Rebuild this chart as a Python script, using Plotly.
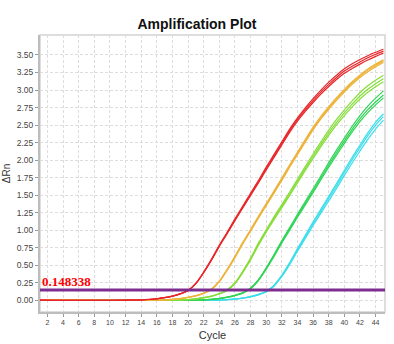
import plotly.graph_objects as go

# Cycle numbers
CYCLES = list(range(1, 46))

# Delta Rn per cycle, three replicates per sample
RED_A = [0.004, 0.002, 0.001, 0.000, -0.001, 0.000, 0.001, 0.000, -0.001, 0.000, 0.001, 0.002, 0.003,
         0.005, 0.012, 0.022, 0.038, 0.060, 0.092, 0.142, 0.245, 0.405, 0.588, 0.788, 0.972, 1.162, 1.345,
         1.528, 1.710, 1.900, 2.082, 2.262, 2.442, 2.602, 2.745, 2.878, 3.000, 3.112, 3.212, 3.302, 3.374,
         3.436, 3.490, 3.538, 3.582]
RED_B = [0.002, 0.001, 0.000, -0.001, 0.000, 0.001, 0.000, -0.001, 0.000, 0.001, 0.001, 0.002, 0.003,
         0.005, 0.012, 0.022, 0.038, 0.060, 0.092, 0.140, 0.240, 0.400, 0.580, 0.780, 0.960, 1.150, 1.330,
         1.510, 1.690, 1.880, 2.060, 2.240, 2.420, 2.580, 2.720, 2.850, 2.970, 3.080, 3.180, 3.270, 3.340,
         3.400, 3.460, 3.510, 3.555]
RED_C = [0.000, -0.001, 0.001, 0.000, 0.001, -0.001, 0.000, 0.001, 0.000, 0.000, 0.002, 0.002, 0.004,
         0.006, 0.013, 0.023, 0.039, 0.061, 0.094, 0.144, 0.238, 0.395, 0.572, 0.770, 0.950, 1.138, 1.318,
         1.495, 1.674, 1.860, 2.040, 2.218, 2.396, 2.555, 2.694, 2.822, 2.942, 3.050, 3.150, 3.238, 3.308,
         3.370, 3.428, 3.480, 3.528]

ORANGE_A = [0.004, 0.003, 0.004, 0.004, 0.003, 0.004, 0.003, 0.002, 0.001, 0.000, 0.000, 0.001, 0.000,
            0.000, 0.001, 0.002, 0.006, 0.014, 0.026, 0.043, 0.068, 0.105, 0.164, 0.278, 0.444, 0.630,
            0.828, 1.010, 1.200, 1.380, 1.562, 1.745, 1.934, 2.114, 2.294, 2.470, 2.626, 2.764, 2.892,
            3.010, 3.118, 3.214, 3.300, 3.370, 3.430]
ORANGE_B = [0.003, 0.002, 0.003, 0.004, 0.003, 0.004, 0.003, 0.002, 0.001, 0.000, 0.000, 0.001, 0.000,
            0.000, 0.001, 0.002, 0.006, 0.014, 0.025, 0.042, 0.066, 0.102, 0.160, 0.272, 0.436, 0.620,
            0.816, 0.998, 1.186, 1.366, 1.546, 1.728, 1.916, 2.096, 2.276, 2.452, 2.608, 2.746, 2.874,
            2.992, 3.100, 3.198, 3.284, 3.352, 3.412]
ORANGE_C = [0.002, 0.002, 0.003, 0.003, 0.004, 0.003, 0.002, 0.002, 0.001, 0.001, 0.000, 0.000, 0.001,
            0.000, 0.001, 0.002, 0.005, 0.013, 0.024, 0.041, 0.064, 0.099, 0.156, 0.266, 0.428, 0.610,
            0.804, 0.986, 1.172, 1.352, 1.530, 1.712, 1.898, 2.078, 2.256, 2.432, 2.588, 2.726, 2.854,
            2.972, 3.080, 3.178, 3.262, 3.330, 3.392]

LIME_A = [0.001, 0.002, 0.002, 0.003, 0.002, 0.001, 0.000, 0.000, -0.001, 0.000, 0.000, 0.001, 0.000,
          0.001, 0.002, 0.002, 0.003, 0.004, 0.006, 0.012, 0.023, 0.039, 0.062, 0.097, 0.150, 0.252,
          0.415, 0.603, 0.816, 1.008, 1.190, 1.368, 1.546, 1.728, 1.910, 2.088, 2.260, 2.428, 2.580,
          2.718, 2.846, 2.962, 3.060, 3.140, 3.210]
LIME_B = [0.001, 0.002, 0.002, 0.003, 0.002, 0.001, 0.000, 0.000, -0.001, 0.000, 0.000, 0.001, 0.000,
          0.001, 0.002, 0.002, 0.003, 0.004, 0.006, 0.012, 0.022, 0.038, 0.060, 0.094, 0.145, 0.245,
          0.405, 0.590, 0.800, 0.990, 1.170, 1.345, 1.520, 1.700, 1.880, 2.055, 2.225, 2.390, 2.540,
          2.675, 2.800, 2.915, 3.010, 3.090, 3.160]
LIME_C = [0.002, 0.001, 0.002, 0.002, 0.003, 0.001, 0.001, 0.000, 0.000, -0.001, 0.000, 0.000, 0.001,
          0.000, 0.001, 0.002, 0.003, 0.003, 0.005, 0.011, 0.021, 0.036, 0.058, 0.090, 0.140, 0.238,
          0.396, 0.578, 0.784, 0.972, 1.150, 1.322, 1.496, 1.674, 1.852, 2.024, 2.192, 2.354, 2.502,
          2.636, 2.760, 2.872, 2.968, 3.048, 3.118]

GREEN_A = [0.002, 0.001, 0.000, 0.001, 0.000, -0.001, 0.000, 0.000, 0.001, 0.000, -0.001, 0.000, 0.001,
           0.000, 0.000, 0.001, 0.001, 0.000, 0.001, 0.001, 0.002, 0.007, 0.016, 0.028, 0.047, 0.073,
           0.110, 0.176, 0.296, 0.465, 0.654, 0.852, 1.038, 1.228, 1.410, 1.592, 1.778, 1.964, 2.142,
           2.314, 2.482, 2.636, 2.770, 2.884, 2.988]
GREEN_B = [0.002, 0.001, 0.000, 0.001, 0.000, -0.001, 0.000, 0.000, 0.001, 0.000, -0.001, 0.000, 0.001,
           0.000, 0.000, 0.001, 0.001, 0.000, 0.001, 0.001, 0.002, 0.007, 0.015, 0.027, 0.045, 0.070,
           0.106, 0.170, 0.288, 0.454, 0.640, 0.834, 1.017, 1.204, 1.384, 1.564, 1.747, 1.930, 2.105,
           2.275, 2.440, 2.590, 2.720, 2.830, 2.930]
GREEN_C = [0.001, 0.000, 0.001, 0.000, 0.001, 0.000, 0.000, -0.001, 0.000, 0.001, 0.000, 0.000, 0.000,
           0.001, 0.000, 0.000, 0.001, 0.001, 0.000, 0.001, 0.002, 0.006, 0.014, 0.026, 0.043, 0.068,
           0.103, 0.165, 0.282, 0.445, 0.628, 0.820, 1.000, 1.185, 1.362, 1.540, 1.720, 1.900, 2.072,
           2.240, 2.402, 2.550, 2.678, 2.788, 2.888]

CYAN_A = [0.001, 0.000, 0.001, 0.002, 0.001, 0.000, 0.000, -0.001, 0.000, 0.001, 0.000, 0.000, -0.001,
          0.000, 0.001, 0.000, 0.000, 0.001, 0.001, 0.000, 0.001, 0.001, 0.002, 0.004, 0.010, 0.020,
          0.034, 0.055, 0.085, 0.130, 0.216, 0.362, 0.540, 0.738, 0.928, 1.120, 1.302, 1.484, 1.666,
          1.856, 2.040, 2.216, 2.388, 2.540, 2.662]
CYAN_B = [0.001, 0.000, 0.001, 0.002, 0.001, 0.000, 0.000, -0.001, 0.000, 0.001, 0.000, 0.000, -0.001,
          0.000, 0.001, 0.000, 0.000, 0.001, 0.001, 0.000, 0.001, 0.001, 0.002, 0.004, 0.010, 0.019,
          0.033, 0.053, 0.082, 0.126, 0.210, 0.352, 0.526, 0.720, 0.906, 1.096, 1.276, 1.456, 1.636,
          1.823, 2.006, 2.180, 2.350, 2.500, 2.620]
CYAN_C = [0.000, 0.001, 0.000, 0.001, 0.002, 0.001, 0.000, 0.000, -0.001, 0.000, 0.001, 0.000, 0.000,
          -0.001, 0.000, 0.001, 0.000, 0.000, 0.001, 0.001, 0.000, 0.001, 0.002, 0.003, 0.009, 0.018,
          0.031, 0.051, 0.079, 0.121, 0.202, 0.340, 0.510, 0.700, 0.882, 1.068, 1.244, 1.420, 1.598,
          1.782, 1.960, 2.130, 2.296, 2.444, 2.570]

THRESHOLD = 0.148338

X_TICKS = list(range(2, 46, 2))
Y_TICKS = [0.00, 0.25, 0.50, 0.75, 1.00, 1.25, 1.50, 1.75, 2.00, 2.25, 2.50, 2.75, 3.00, 3.25, 3.50]

# Drawn back to front: latest sample first, earliest on top
GROUPS = [
    ("#3BDDEB", [CYAN_A, CYAN_B, CYAN_C]),
    ("#2FD454", [GREEN_A, GREEN_B, GREEN_C]),
    ("#86DD3A", [LIME_A, LIME_B, LIME_C]),
    ("#EDB33A", [ORANGE_A, ORANGE_B, ORANGE_C]),
    ("#E8262A", [RED_A, RED_B, RED_C]),
]

fig = go.Figure()
for color, reps in GROUPS:
    for vals in reps:
        fig.add_trace(go.Scatter(
            x=CYCLES, y=vals, mode="lines",
            line=dict(color=color, width=1.2, shape="spline", smoothing=0.6),
            showlegend=False, hoverinfo="skip",
        ))

# Threshold line
fig.add_shape(type="line", xref="paper", x0=0, x1=1, yref="y", y0=THRESHOLD, y1=THRESHOLD,
              line=dict(color="#7D2D8F", width=3), layer="above")
fig.add_annotation(xref="paper", x=0.0, xanchor="left", yref="y", y=THRESHOLD, yanchor="bottom",
                   yshift=-1, text=f"<b>{THRESHOLD:.6f}</b>", showarrow=False,
                   font=dict(family="Liberation Serif", size=13, color="#FF0000"))

# Light frame round the plot area
fig.add_shape(type="rect", xref="paper", yref="paper", x0=0, x1=1, y0=0, y1=1,
              line=dict(color="#D4D4D4", width=1.5), layer="below")

fig.update_layout(
    width=394, height=344,
    margin=dict(l=40, r=9, t=35, b=32),
    paper_bgcolor="white", plot_bgcolor="white",
    title=dict(text="<b>Amplification Plot</b>", x=0.5, xanchor="center", y=0.93, yanchor="middle",
               font=dict(family="Liberation Sans", size=14, color="#111111")),
    font=dict(family="Liberation Sans", color="#333333"),
)
fig.update_xaxes(
    automargin=False,
    range=[1.05, 45.2], tickmode="array", tickvals=X_TICKS, ticktext=[str(v) for v in X_TICKS],
    tickfont=dict(size=7, color="#444444"), ticks="outside", ticklen=3, tickcolor="#999999",
    showgrid=True, gridcolor="#DDDDDD", griddash="3px,2px", gridwidth=1, zeroline=False,
    showline=True, linecolor="#BDBDBD", linewidth=2,
    title=dict(text="Cycle", font=dict(size=11, color="#333333"), standoff=6),
)
fig.update_yaxes(
    automargin=False,
    range=[-0.166, 3.785], tickmode="array", tickvals=Y_TICKS, ticktext=[f"{v:.2f}" for v in Y_TICKS],
    tickfont=dict(size=8.5, color="#444444"), ticks="outside", ticklen=3, tickcolor="#999999",
    showgrid=True, gridcolor="#DDDDDD", griddash="3px,2px", gridwidth=1, zeroline=False,
    showline=True, linecolor="#BDBDBD", linewidth=2,
    title=dict(text="ΔRn", font=dict(size=10, color="#333333"), standoff=4),
)

fig.write_html("out.html")
